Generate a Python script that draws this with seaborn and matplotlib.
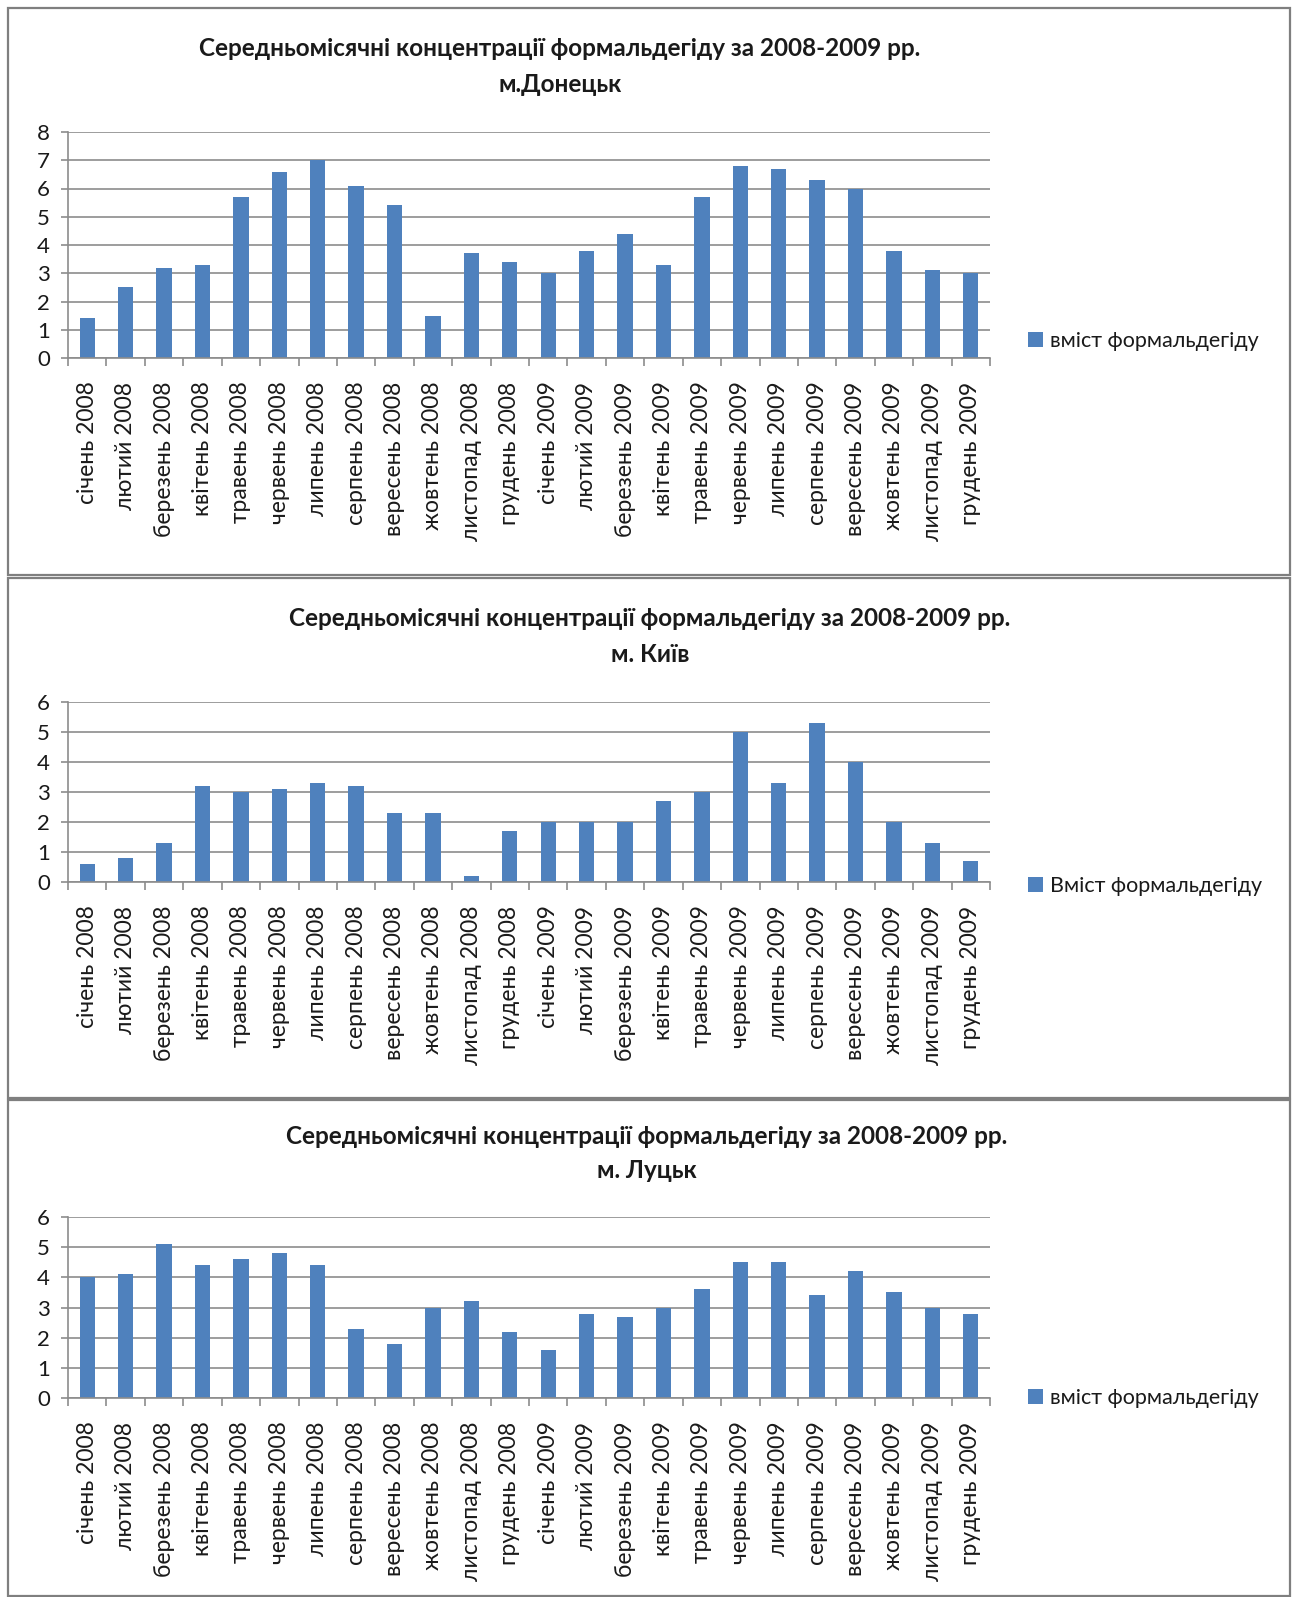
import matplotlib
matplotlib.use("Agg")
import matplotlib.pyplot as plt
from matplotlib.patches import Rectangle, Patch
from matplotlib.ticker import FixedLocator
import seaborn as sns
import pandas as pd

sns.set_theme(style="white")
plt.rcParams['font.family'] = ['Lato', 'Open Sans', 'DejaVu Sans']

months = ["січень 2008", "лютий 2008", "березень 2008", "квітень 2008", "травень 2008",
          "червень 2008", "липень 2008", "серпень 2008", "вересень 2008", "жовтень 2008",
          "листопад 2008", "грудень 2008", "січень 2009", "лютий 2009", "березень 2009",
          "квітень 2009", "травень 2009", "червень 2009", "липень 2009", "серпень 2009",
          "вересень 2009", "жовтень 2009", "листопад 2009", "грудень 2009"]

donetsk = [1.4, 2.5, 3.2, 3.3, 5.7, 6.6, 7.0, 6.1, 5.4, 1.5, 3.7, 3.4,
           3.0, 3.8, 4.4, 3.3, 5.7, 6.8, 6.7, 6.3, 6.0, 3.8, 3.1, 3.0]
kyiv = [0.6, 0.8, 1.3, 3.2, 3.0, 3.1, 3.3, 3.2, 2.3, 2.3, 0.2, 1.7,
        2.0, 2.0, 2.0, 2.7, 3.0, 5.0, 3.3, 5.3, 4.0, 2.0, 1.3, 0.7]
lutsk = [4.0, 4.1, 5.1, 4.4, 4.6, 4.8, 4.4, 2.3, 1.8, 3.0, 3.2, 2.2,
         1.6, 2.8, 2.7, 3.0, 3.6, 4.5, 4.5, 3.4, 4.2, 3.5, 3.0, 2.8]

title_main = "Середньомісячні концентрації формальдегіду за 2008-2009 рр."
cities = ["м.Донецьк", "м. Київ", "м. Луцьк"]
legend_labels = ["вміст формальдегіду", "Вміст формальдегіду", "вміст формальдегіду"]
y_max = [8, 6, 6]

BAR = "#4F81BD"
GRID = "#8C8C8C"
W, H = 1293, 1597

fig = plt.figure(figsize=(W / 100, H / 100), dpi=100)

# panel layout in pixels
panels = [
    dict(values=donetsk, ftop=8, fbot=575, atop=132, abot=358, tx=560, ty1=48, ty2=85, ly=0.075),
    dict(values=kyiv, ftop=578, fbot=1098, atop=702, abot=882, tx=650, ty1=618, ty2=654, ly=-0.02),
    dict(values=lutsk, ftop=1100, fbot=1596, atop=1217, abot=1398, tx=647, ty1=1137, ty2=1171, ly=0.0),
]

left, right = 68, 990

for i, p in enumerate(panels):
    # outer frame of each chart
    fig.add_artist(Rectangle((8 / W, 1 - p['fbot'] / H), (1290 - 8) / W,
                             (p['fbot'] - p['ftop']) / H, transform=fig.transFigure,
                             fill=False, edgecolor="#7F7F7F", linewidth=1.6))

    ax = fig.add_axes([left / W, 1 - p['abot'] / H, (right - left) / W,
                       (p['abot'] - p['atop']) / H])
    df = pd.DataFrame({"month": months, "value": p['values']})
    sns.barplot(data=df, x="month", y="value", ax=ax, color=BAR, width=0.4,
                saturation=1, edgecolor="none", label=legend_labels[i])

    ax.set_xlim(-0.5, len(months) - 0.5)
    ax.set_ylim(0, y_max[i])
    ax.set_yticks(range(0, y_max[i] + 1))
    ax.yaxis.grid(True, color=GRID, linewidth=1.2)
    ax.set_axisbelow(True)
    ax.set_xlabel("")
    ax.set_ylabel("")

    for side in ("top", "right"):
        ax.spines[side].set_visible(False)
    for side in ("left", "bottom"):
        ax.spines[side].set_color(GRID)
        ax.spines[side].set_linewidth(1.2)

    # category boundary tick marks
    ax.xaxis.set_minor_locator(FixedLocator([k - 0.5 for k in range(len(months) + 1)]))
    ax.tick_params(axis="x", which="minor", bottom=True, length=6, color=GRID, width=1.2)
    ax.tick_params(axis="x", which="major", bottom=False, length=0, pad=17,
                   labelsize=16.5, labelcolor="#1a1a1a")
    ax.tick_params(axis="y", left=True, length=5, color=GRID, width=1.2, pad=8,
                   labelsize=16, labelcolor="#1a1a1a")
    plt.setp(ax.get_xticklabels(), rotation=90, va="top", ha="center")

    ax.legend(handles=[Patch(facecolor=BAR, edgecolor="none", label=legend_labels[i])],
              loc="center left", bbox_to_anchor=(1.02, p['ly']), frameon=False,
              fontsize=15.5, handlelength=0.7, handleheight=0.7, handletextpad=0.35,
              labelcolor="#1a1a1a")

    fig.text(p['tx'] / W, 1 - p['ty1'] / H, title_main, ha="center", va="center",
             fontsize=17.5, fontweight="bold", color="#1a1a1a")
    fig.text(p['tx'] / W, 1 - p['ty2'] / H, cities[i], ha="center", va="center",
             fontsize=17.5, fontweight="bold", color="#1a1a1a")

fig.savefig("out.png", dpi=100, facecolor="white")
